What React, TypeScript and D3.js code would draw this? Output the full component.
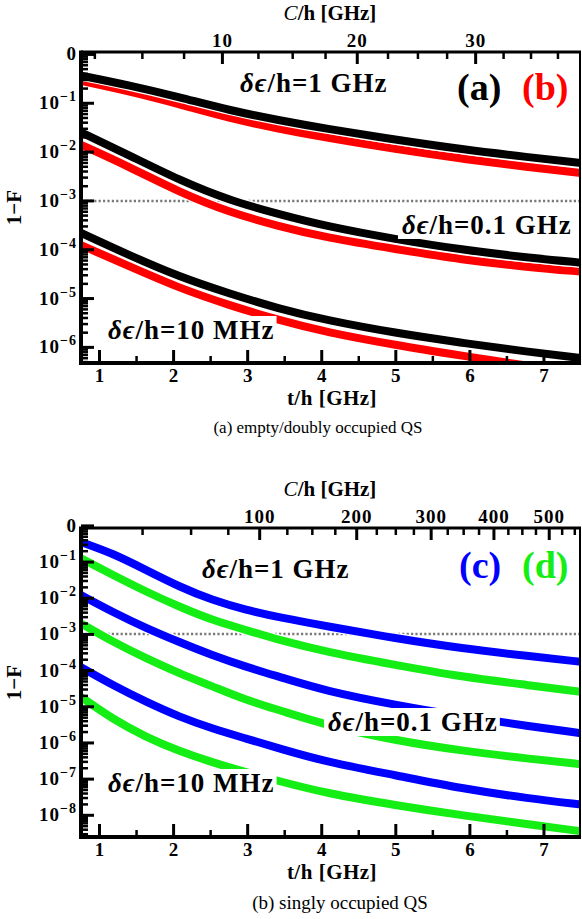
import { useEffect, useRef } from 'react';
import * as d3 from 'd3';

const W = 582;
const H = 919;
const SERIF = "'Liberation Serif', 'Times New Roman', 'DejaVu Serif', serif";

// shared x range, t/h [GHz]
const tDomain = [0.75, 7.5];
const tMajor = [1, 2, 3, 4, 5, 6, 7];
const tMinor = [1.5, 2.5, 3.5, 4.5, 5.5, 6.5];
const threshold = 1e-3;

// panel (a)/(b): empty / doubly occupied QS
const tTop = [0.75, 1.4, 2.08, 2.75, 3.42, 4.06, 5.0, 5.89, 6.79, 7.5];
const aHigh = [0.369, 0.233, 0.133, 0.0719, 0.0449, 0.0301, 0.0179, 0.0114, 0.00785, 0.006];
const bHigh = [0.286, 0.176, 0.0955, 0.0493, 0.0301, 0.0197, 0.01146, 0.00731, 0.0049, 0.00374];
const aMid = [0.0255, 0.00863, 0.00265, 0.00103, 5.35e-4, 3.03e-4, 1.64e-4, 1.0e-4, 6.87e-5, 5.43e-5];
const bMid = [0.0141, 0.00501, 0.00151, 5.87e-4, 3.03e-4, 1.77e-4, 1.03e-4, 6.25e-5, 4.4e-5, 3.56e-5];
const aLow = [2.21e-4, 7.73e-5, 2.78e-5, 1.27e-5, 6.21e-6, 3.61e-6, 1.96e-6, 1.24e-6, 8.11e-7, 6.03e-7];
const bLow = [1.24e-4, 4.6e-5, 1.63e-5, 7.33e-6, 3.61e-6, 2.05e-6, 1.11e-6, 6.78e-7, 4.13e-7, 3.11e-7];
const cTicksTop = [10, 20, 30];
const cMinorTop = [2.5, 5, 7.5, 12.5, 15, 17.5, 22.5, 25, 27.5, 32.5, 35, 37.5];

// panel (c)/(d): singly occupied QS
const tBottom = [0.75, 1.18, 1.63, 2.08, 2.52, 2.98, 3.43, 4.06, 5.0, 5.89, 6.8, 7.5];
const cHigh = [0.358, 0.174, 0.0601, 0.0207, 0.00889, 0.00472, 0.00295, 0.0017, 7.74e-4, 4.1e-4, 2.51e-4, 1.75e-4];
const dHigh = [0.127, 0.0438, 0.0151, 0.00581, 0.00249, 0.00132, 6.95e-4, 3.3e-4, 1.42e-4, 6.72e-5, 3.95e-5, 2.58e-5];
const cMid = [0.0122, 0.00414, 0.00149, 6.12e-4, 2.67e-4, 1.27e-4, 6.71e-5, 2.7e-5, 1.11e-5, 5.48e-6, 2.9e-6, 1.86e-6];
const dMid = [2.01e-3, 6.24e-4, 2.17e-4, 8.34e-5, 3.71e-5, 1.52e-5, 8.04e-6, 3.09e-6, 1.16e-6, 6.1e-7, 3.64e-7, 2.58e-7];
const cLow = [1.24e-4, 3.95e-5, 1.36e-5, 5.25e-6, 2.51e-6, 1.32e-6, 7.01e-7, 2.99e-7, 1.28e-7, 5.48e-8, 2.9e-8, 1.98e-8];
const dLow = [1.87e-5, 4.53e-6, 1.44e-6, 5.9e-7, 2.93e-7, 1.55e-7, 8.73e-8, 4.06e-8, 1.89e-8, 1.0e-8, 5.64e-9, 3.61e-9];
const cTicksBottom = [100, 200, 300, 400, 500];
const cMinorBottom = [25, 50, 75, 125, 150, 175, 225, 250, 275, 325, 350, 375, 425, 450, 475, 525, 550];

const RED = '#ff0000';
const BLUE = '#0000ff';
const GREEN = '#14ee14';

const panels = [
  {
    key: 'top',
    left: 81, right: 581, top: 52, bottom: 363,
    yDomain: [10 ** -6.32, 10 ** 0.05],
    decades: [0, -1, -2, -3, -4, -5, -6],
    t: tTop,
    series: [
      { values: bHigh, color: RED }, { values: aHigh, color: '#000' },
      { values: bMid, color: RED }, { values: aMid, color: '#000' },
      { values: bLow, color: RED }, { values: aLow, color: '#000' }
    ],
    // t/h position of a C/h value on the upper axis
    cToT: (c) => Math.pow(c / 2.726, 1 / 1.329),
    cMajor: cTicksTop, cMinor: cMinorTop,
    labels: [
      { text: '1 GHz', x: 240, y: 92 },
      { text: '0.1 GHz', x: 402, y: 234 },
      { text: '10 MHz', x: 108, y: 339 }
    ],
    tags: [{ text: '(a)', x: 457, color: '#000' }, { text: '(b)', x: 522, color: RED }],
    tagY: 100,
    caption: '(a) empty/doubly occupied QS', captionX: 318, captionY: 433, captionSize: 17
  },
  {
    key: 'bottom',
    left: 81, right: 581, top: 528, bottom: 837,
    yDomain: [10 ** -8.6, 10 ** -0.058],
    decades: [0, -1, -2, -3, -4, -5, -6, -7, -8],
    t: tBottom,
    series: [
      { values: cHigh, color: BLUE }, { values: dHigh, color: GREEN },
      { values: cMid, color: BLUE }, { values: dMid, color: GREEN },
      { values: cLow, color: BLUE }, { values: dLow, color: GREEN }
    ],
    cToT: (c) => Math.sqrt(c / 10),
    cMajor: cTicksBottom, cMinor: cMinorBottom,
    labels: [
      { text: '1 GHz', x: 202, y: 578 },
      { text: '0.1 GHz', x: 328, y: 731 },
      { text: '10 MHz', x: 108, y: 792 }
    ],
    tags: [{ text: '(c)', x: 459, color: BLUE }, { text: '(d)', x: 522, color: GREEN }],
    tagY: 578,
    caption: '(b) singly occupied QS', captionX: 340, captionY: 909, captionSize: 19
  }
];

function serif(sel, size, bold = true) {
  return sel.style('font-family', SERIF).style('font-size', `${size}px`).style('font-weight', bold ? 'bold' : 'normal');
}

function drawPanel(svg, p) {
  const x = d3.scaleLinear().domain(tDomain).range([p.left, p.right]);
  const y = d3.scaleLog().domain(p.yDomain).range([p.bottom, p.top]);
  const clipId = `clip-${p.key}`;
  svg.append('clipPath').attr('id', clipId)
    .append('rect')
    .attr('x', p.left).attr('y', p.top)
    .attr('width', p.right - p.left).attr('height', p.bottom - p.top);

  const ty = Math.round(y(threshold));
  svg.append('line')
    .attr('x1', p.left).attr('x2', p.right)
    .attr('y1', ty).attr('y2', ty)
    .attr('stroke', '#7a7a7a').attr('stroke-width', 2.5).attr('stroke-dasharray', '2.2,2.2');

  const line = d3.line().x((_, i) => x(p.t[i])).y((v) => y(v)).curve(d3.curveBasis);
  const curves = svg.append('g').attr('clip-path', `url(#${clipId})`);
  p.series.forEach((s) => {
    curves.append('path').attr('d', line(s.values)).attr('fill', 'none')
      .attr('stroke', '#fff').attr('stroke-width', 10.5);
    curves.append('path').attr('d', line(s.values)).attr('fill', 'none')
      .attr('stroke', s.color).attr('stroke-width', 8);
  });

  // δϵ labels on white boxes
  p.labels.forEach((l) => {
    const lg = svg.append('g');
    const txt = serif(lg.append('text').attr('x', l.x).attr('y', l.y), 27).style('letter-spacing', '1px');
    txt.append('tspan').style('font-style', 'italic').text('δϵ');
    txt.append('tspan').text(`/h=${l.text}`);
    const bb = txt.node().getBBox();
    lg.insert('rect', 'text').attr('x', bb.x - 4).attr('y', bb.y + 1).attr('width', bb.width + 6)
      .attr('height', bb.height - 2).attr('fill', '#fff');
  });

  p.tags.forEach((tag) => {
    serif(svg.append('text').attr('x', tag.x).attr('y', p.tagY), 38)
      .attr('fill', tag.color).text(tag.text);
  });

  // frame
  const frame = svg.append('g').attr('stroke', '#000').attr('fill', 'none');
  frame.append('line').attr('x1', p.left).attr('x2', p.right).attr('y1', p.top).attr('y2', p.top).attr('stroke-width', 3);
  frame.append('line').attr('x1', p.right - 1).attr('x2', p.right - 1).attr('y1', p.top).attr('y2', p.bottom).attr('stroke-width', 2);
  frame.append('line').attr('x1', p.left).attr('x2', p.right).attr('y1', p.bottom).attr('y2', p.bottom).attr('stroke-width', 4);
  frame.append('line').attr('x1', p.left).attr('x2', p.left).attr('y1', p.top - 1.5).attr('y2', p.bottom + 2).attr('stroke-width', 4);

  // left log ticks
  p.decades.forEach((e) => {
    const v = 10 ** e;
    frame.append('line').attr('x1', p.left).attr('x2', p.left + 13).attr('y1', y(v)).attr('y2', y(v)).attr('stroke-width', 3);
    d3.range(2, 10).forEach((m) => {
      const mv = m * 10 ** (e - 1);
      if (mv < p.yDomain[0] || mv > p.yDomain[1]) return;
      frame.append('line').attr('x1', p.left).attr('x2', p.left + 7).attr('y1', y(mv)).attr('y2', y(mv)).attr('stroke-width', 2.5);
    });
    const lab = serif(svg.append('text').attr('x', 77).attr('y', y(v) + 6).attr('text-anchor', 'end'), 19)
      .style('letter-spacing', '1px');
    if (e === 0) {
      lab.text('0');
    } else {
      lab.append('tspan').text('10');
      lab.append('tspan').style('font-size', '14px').attr('dy', -8).text(`−${-e}`);
    }
  });

  // bottom ticks
  tMajor.forEach((t) => {
    frame.append('line').attr('x1', x(t)).attr('x2', x(t)).attr('y1', p.bottom).attr('y2', p.bottom - 13).attr('stroke-width', 3);
    serif(svg.append('text').attr('x', x(t)).attr('y', p.bottom + 19).attr('text-anchor', 'middle'), 19).text(t);
  });
  tMinor.forEach((t) => {
    frame.append('line').attr('x1', x(t)).attr('x2', x(t)).attr('y1', p.bottom).attr('y2', p.bottom - 7).attr('stroke-width', 2.5);
  });

  // top C/h ticks
  p.cMajor.forEach((c) => {
    const px = x(p.cToT(c));
    frame.append('line').attr('x1', px).attr('x2', px).attr('y1', p.top).attr('y2', p.top + 12).attr('stroke-width', 3);
    serif(svg.append('text').attr('x', px).attr('y', p.top - 5).attr('text-anchor', 'middle'), 19)
      .style('letter-spacing', '1px').text(c);
  });
  p.cMinor.forEach((c) => {
    const t = p.cToT(c);
    if (t < tDomain[0] || t > tDomain[1]) return;
    const px = x(t);
    frame.append('line').attr('x1', px).attr('x2', px).attr('y1', p.top).attr('y2', p.top + 7).attr('stroke-width', 2.5);
  });

  // axis titles
  const mid = (p.top + p.bottom) / 2;
  serif(svg.append('text').attr('transform', `translate(21,${mid}) rotate(-90)`).attr('text-anchor', 'middle'), 21).text('1−F');
  serif(svg.append('text').attr('x', 332).attr('y', p.bottom + 42).attr('text-anchor', 'middle'), 21)
    .style('letter-spacing', '0.5px').text('t/h [GHz]');
  const ct = serif(svg.append('text').attr('x', 330).attr('y', p.top - 32).attr('text-anchor', 'middle'), 21);
  ct.append('tspan').style('font-weight', 'normal').style('font-style', 'italic').text('C');
  ct.append('tspan').text('/h [GHz]');

  serif(svg.append('text').attr('x', p.captionX).attr('y', p.captionY).attr('text-anchor', 'middle'), p.captionSize, false)
    .text(p.caption);
}

export default function App() {
  const ref = useRef(null);
  useEffect(() => {
    const svg = d3.select(ref.current);
    svg.selectAll('*').remove();
    svg.append('rect').attr('width', W).attr('height', H).attr('fill', '#fff');
    panels.forEach((p) => drawPanel(svg, p));
  }, []);
  return (
    <svg ref={ref} width={W} height={H} style={{ position: 'absolute', left: 0, top: 0 }} />
  );
}
